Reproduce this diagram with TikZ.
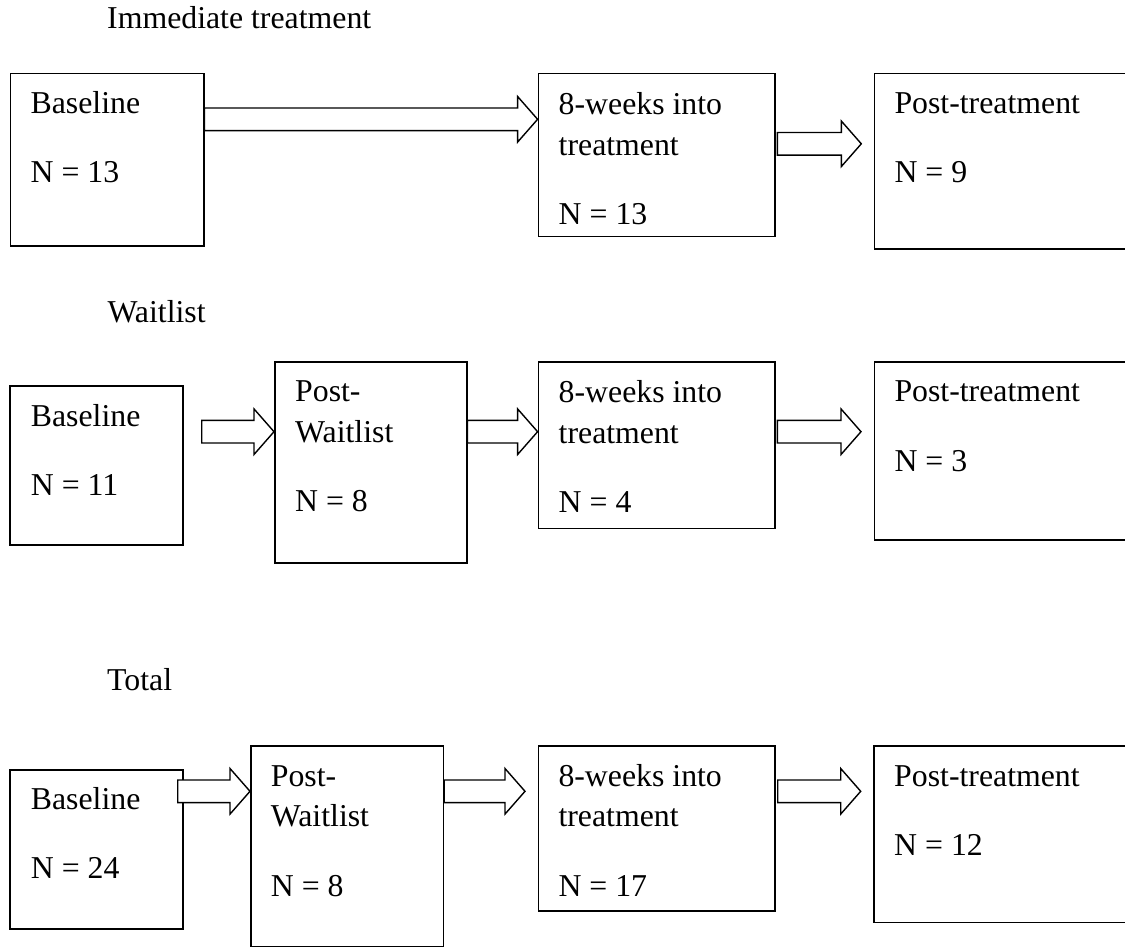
\documentclass[tikz,border=0pt]{standalone}
\usepackage{fontspec}
\setmainfont{Liberation Serif}
\usepackage{tikz}
\usetikzlibrary{calc}

% hollow block arrow from #1 to the tip #2
\newcommand{\blockarrow}[2]{%
  \draw[fatarrow] ($(#1)+(0,-11.3)$) -- ($(#2)+(-20,-11.3)$) -- ($(#2)+(-20,-22.8)$)
    -- (#2) -- ($(#2)+(-20,22.8)$) -- ($(#2)+(-20,11.3)$) -- ($(#1)+(0,11.3)$) -- cycle;}

\begin{document}
\begin{tikzpicture}[
    x=1pt, y=-1pt,
    stagebox/.style={rectangle, draw, line width=1.5pt, inner sep=0pt, anchor=north west},
    stagetext/.style={anchor=base west, align=left, inner sep=0pt,
        font=\fontsize{31.8}{40.7}\selectfont},
    grouptitle/.style={anchor=base west, inner sep=0pt, font=\fontsize{31.8}{40.7}\selectfont},
    fatarrow/.style={draw, fill=white, line width=1.4pt, line join=miter}
]
\useasboundingbox (0,0) rectangle (1125,947);
\clip (0,0) rectangle (1125,947);

% levels of the arrows
\coordinate (yA) at (0,119.3);
\coordinate (yB) at (0,143.8);
\coordinate (yC) at (0,431.7);
\coordinate (yD) at (0,791.3);

% Immediate treatment  (text nodes sit on the baseline of their last line)
\node[grouptitle] (ttlA) at (107,28.3) {Immediate treatment};
\node[stagebox, minimum width=193.4pt, minimum height=172.3pt] (B1) at (9.6,72.7) {};
\node[stagebox, minimum width=236.4pt, minimum height=163pt] (E1) at (537.6,72.7) {};
\node[stagebox, minimum width=300pt, minimum height=175.6pt] (P1) at (873.5,72.7) {};
\node[stagetext] (B1t) at (30.4,182.6) {Baseline\\[28.6pt]N = 13};
\node[stagetext] (E1t) at (558.5,224.5) {8-weeks into\\treatment\\[28.6pt]N = 13};
\node[stagetext] (P1t) at (894.3,182.6) {Post-treatment\\[28.6pt]N = 9};

% Waitlist
\node[grouptitle] (ttlB) at (107.3,322.7) {Waitlist};
\node[stagebox, minimum width=173pt, minimum height=159.3pt] (B2) at (9.3,385) {};
\node[stagebox, minimum width=192pt, minimum height=201.3pt] (W2) at (274,361) {};
\node[stagebox, minimum width=236.4pt, minimum height=166.7pt] (E2) at (537.6,361) {};
\node[stagebox, minimum width=300pt, minimum height=178.3pt] (P2) at (873.5,361) {};
\node[stagetext] (B2t) at (30.7,495.3) {Baseline\\[28.6pt]N = 11};
\node[stagetext] (W2t) at (295,511.7) {Post-\\Waitlist\\[28.6pt]N = 8};
\node[stagetext] (E2t) at (558.5,512.5) {8-weeks into\\treatment\\[28.6pt]N = 4};
\node[stagetext] (P2t) at (894.3,471) {Post-treatment\\[28.6pt]N = 3};

% Total
\node[grouptitle] (ttlC) at (107,690) {Total};
\node[stagebox, minimum width=173pt, minimum height=159pt] (B3) at (9.3,769.3) {};
\node[stagebox, minimum width=192.7pt, minimum height=200.5pt] (W3) at (250,745) {};
\node[stagebox, minimum width=236.6pt, minimum height=165pt] (E3) at (537.7,745) {};
\node[stagebox, minimum width=300pt, minimum height=176.7pt] (P3) at (873.3,745) {};
\node[stagetext] (B3t) at (30.7,878.6) {Baseline\\[28.6pt]N = 24};
\node[stagetext] (W3t) at (270.7,896) {Post-\\Waitlist\\[28.6pt]N = 8};
\node[stagetext] (E3t) at (558.3,896) {8-weeks into\\treatment\\[28.6pt]N = 17};
\node[stagetext] (P3t) at (894,855.3) {Post-treatment\\[28.6pt]N = 12};

% free arrow ends
\coordinate (a2s) at (777.4,143.8);
\coordinate (a2t) at (861.3,143.8);
\coordinate (a3s) at (201.7,431.7);
\coordinate (a5s) at (777.4,431.7);
\coordinate (a5t) at (861,431.7);
\coordinate (a6s) at (177.7,791.3);
\coordinate (a7t) at (525,791.3);
\coordinate (a8s) at (777.7,791.3);
\coordinate (a8t) at (860.7,791.3);

% arrows
\blockarrow{B1.east |- yA}{E1.west |- yA}
\blockarrow{a2s}{a2t}
\blockarrow{a3s}{W2.west |- yC}
\blockarrow{W2.east |- yC}{E2.west |- yC}
\blockarrow{a5s}{a5t}
\blockarrow{a6s}{W3.west |- yD}
\blockarrow{W3.east |- yD}{a7t}
\blockarrow{a8s}{a8t}

\end{tikzpicture}
\end{document}
